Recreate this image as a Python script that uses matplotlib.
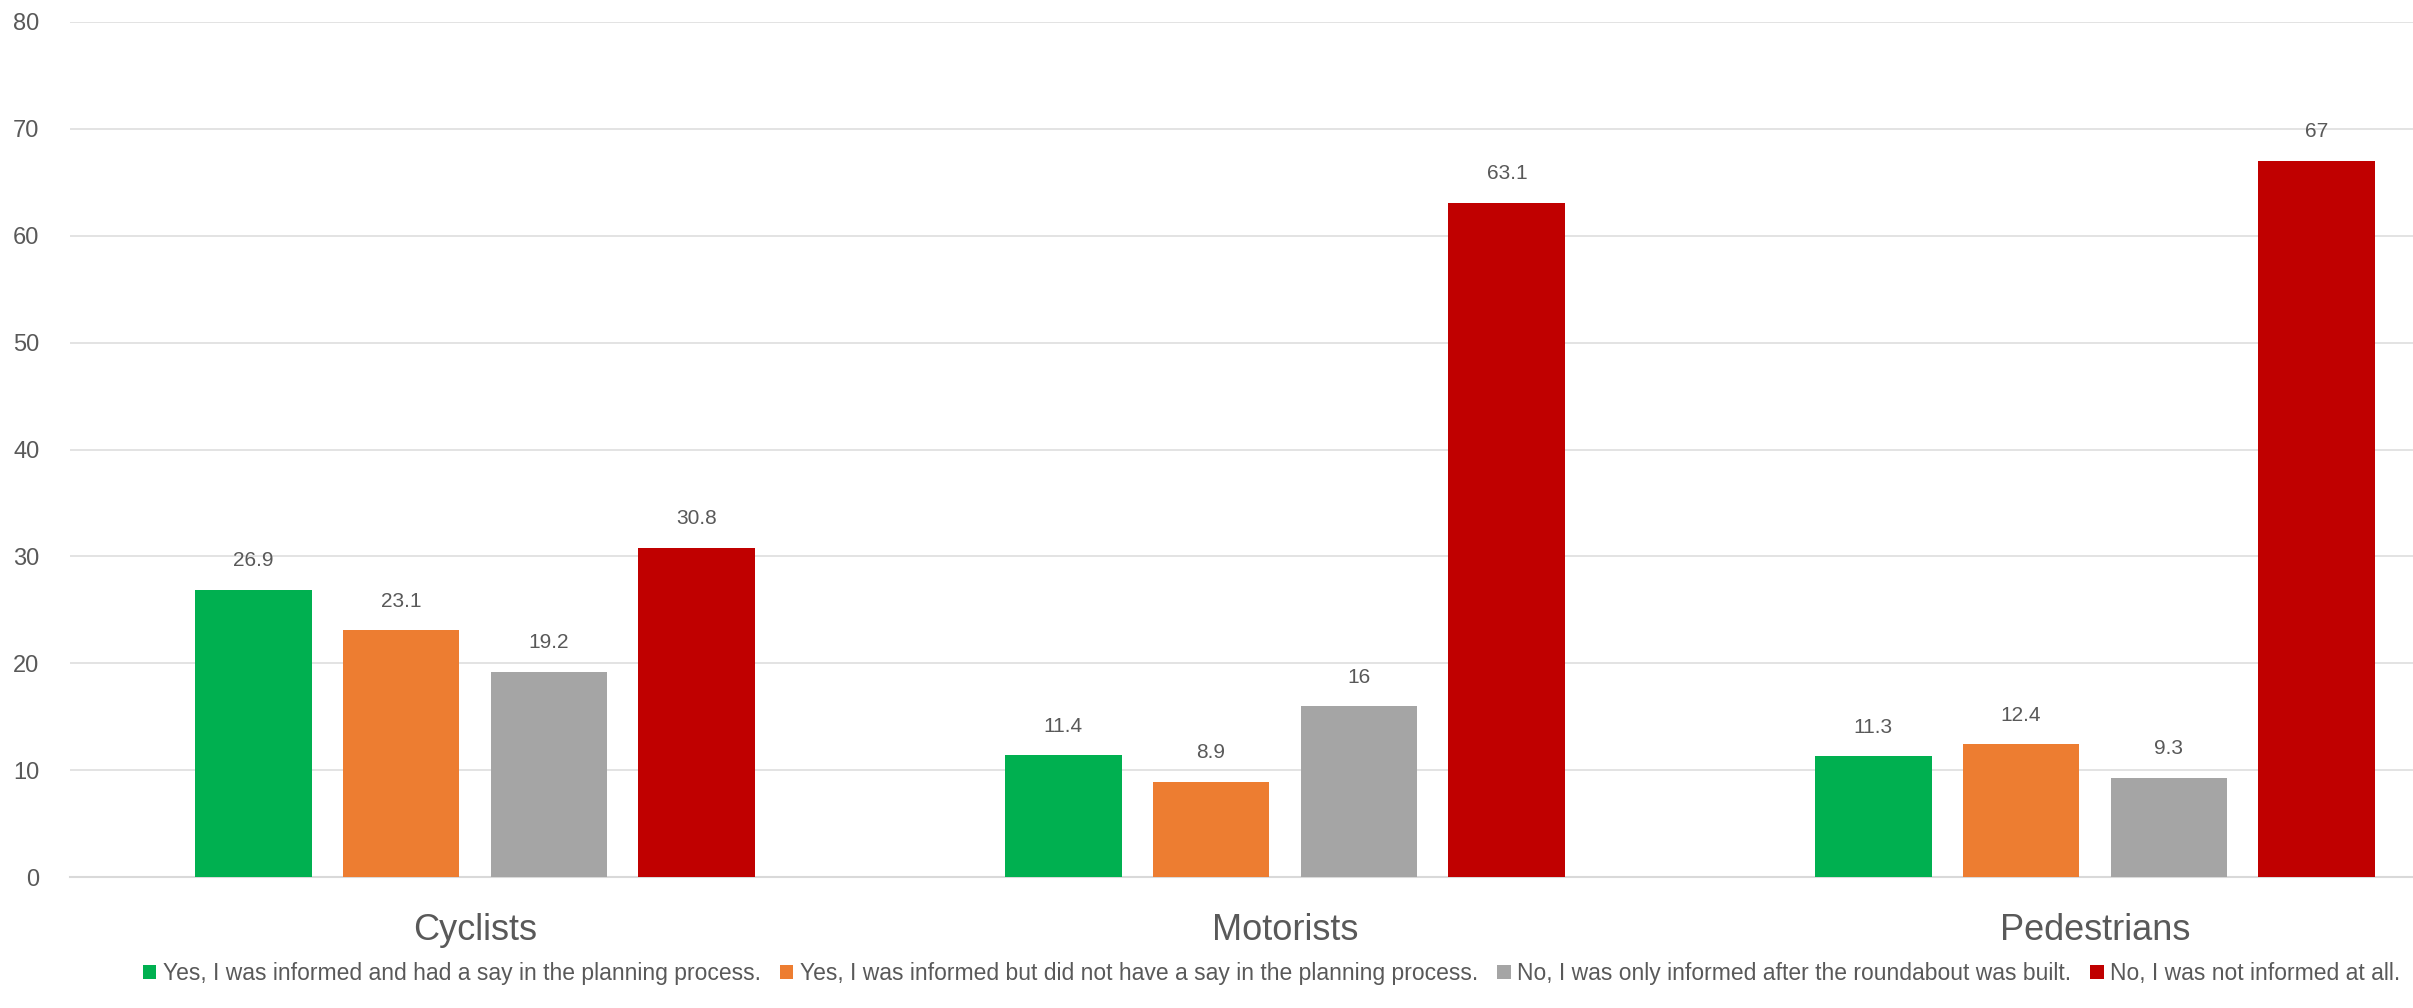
import matplotlib

matplotlib.use("Agg")
import matplotlib.pyplot as plt
import numpy as np

categories = ["Cyclists", "Motorists", "Pedestrians"]
series_names = [
    "Yes, I was informed and had a say in the planning process.",
    "Yes, I was informed but did not have a say in the planning process.",
    "No, I was only informed after the roundabout was built.",
    "No, I was not informed at all.",
]
had_say = [26.9, 11.4, 11.3]
no_say = [23.1, 8.9, 12.4]
after_built = [19.2, 16, 9.3]
not_informed = [30.8, 63.1, 67]
y_ticks = [0, 10, 20, 30, 40, 50, 60, 70, 80]

colors = ["#00B050", "#ED7D31", "#A5A5A5", "#C00000"]
text_color = "#595959"
grid_color = "#E1E1E1"

plt.rcParams["font.family"] = ["Liberation Sans", "DejaVu Sans"]

fig = plt.figure(figsize=(24.13, 10.08), dpi=100)
ax = fig.add_axes([70 / 2413, 1 - 877 / 1008, 2430 / 2413, 855 / 1008])

x = np.arange(len(categories))
step = 0.1827
width = 0.1444
all_series = [had_say, no_say, after_built, not_informed]
for i, (vals, name, col) in enumerate(zip(all_series, series_names, colors)):
    pos = x + (i - 1.5) * step
    bars = ax.bar(pos, vals, width=width, color=col, label=name, zorder=3)
    for b, v in zip(bars, vals):
        ax.annotate(f"{v:g}", (b.get_x() + b.get_width() / 2, v),
                    xytext=(0, 14), textcoords="offset points",
                    ha="center", va="bottom", fontsize=15, color=text_color)

ax.set_xlim(-0.5, 2.5)
ax.set_ylim(0, 80)
ax.set_yticks(y_ticks)
ax.set_xticks(x)
ax.set_xticklabels(categories, fontsize=26, color=text_color)
ax.tick_params(axis="x", length=0, pad=26)
ax.tick_params(axis="y", length=0, pad=22, labelsize=17, labelcolor=text_color)
ax.yaxis.grid(True, color=grid_color, linewidth=1.3, zorder=0)
for side in ["top", "right", "left"]:
    ax.spines[side].set_visible(False)
ax.spines["bottom"].set_color("#D9D9D9")
ax.spines["bottom"].set_linewidth(1.5)

fig.legend(loc="center", bbox_to_anchor=(0.527, 0.034), ncol=4, frameon=False,
           fontsize=16.5, labelcolor=text_color, handlelength=0.6, handleheight=0.6,
           handletextpad=0.3, columnspacing=0.8)

fig.savefig("out.png", dpi=100)
plt.close(fig)
